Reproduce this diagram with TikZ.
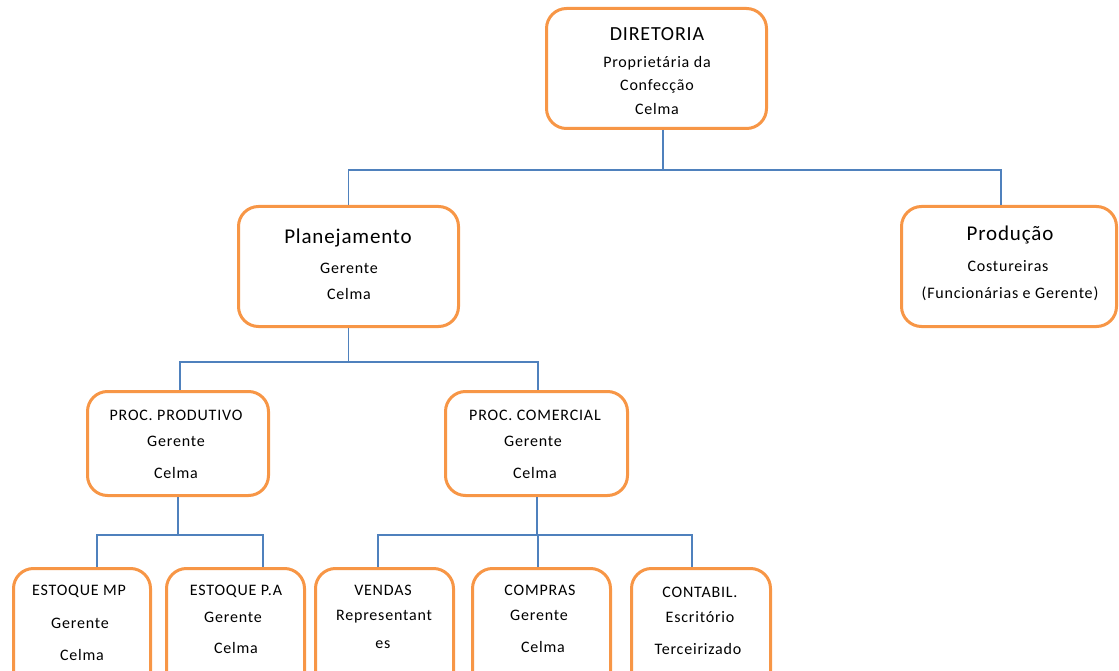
\documentclass[tikz,border=0pt]{standalone}
\usepackage{fontspec}
\setmainfont{Carlito}
\newfontfamily\tfont[LetterSpace=4]{Carlito}
\newfontfamily\sfont[LetterSpace=5]{Carlito}
\definecolor{boxorange}{HTML}{F79646}
\definecolor{lineblue}{HTML}{4F81BD}
\begin{document}
\begin{tikzpicture}[x=1pt,y=-1pt,
  box/.style={draw=boxorange, line width=3pt, rounded corners=20pt, inner sep=0pt, fill=white},
  conn/.style={draw=lineblue, line width=1.5pt},
  ttl/.style={font=\tfont\fontsize{21}{21}\selectfont, anchor=mid, inner sep=0pt, yshift=-3pt},
  ttls/.style={font=\tfont\fontsize{20}{20}\selectfont, anchor=mid, inner sep=0pt, yshift=-3pt},
  sub/.style={font=\sfont\fontsize{16}{16}\selectfont, anchor=mid, inner sep=0pt, yshift=-3pt}]
\useasboundingbox (0,0) rectangle (1119,671);
\clip (0,0) rectangle (1119,671);
% boxes
\node[box, minimum width=220pt, minimum height=120pt] (dir) at (656.5,68.5) {};
\node[box, minimum width=220pt, minimum height=120pt] (plan) at (348.5,266.5) {};
\node[box, minimum width=215pt, minimum height=120pt] (prod) at (1009,266.5) {};
\node[box, minimum width=181pt, minimum height=104pt] (pp) at (178,443.5) {};
\node[box, minimum width=182pt, minimum height=104pt] (pc) at (536.5,443.5) {};
\node[box, minimum width=137pt, minimum height=130pt] (emp) at (82,633.5) {};
\node[box, minimum width=138pt, minimum height=130pt] (epa) at (235.5,633.5) {};
\node[box, minimum width=138pt, minimum height=130pt] (ven) at (384.5,633.5) {};
\node[box, minimum width=138pt, minimum height=130pt] (com) at (541.5,633.5) {};
\node[box, minimum width=139pt, minimum height=130pt] (con) at (701,633.5) {};
% connectors
\draw[conn] ([xshift=6.5pt]dir.south) -- ++(0,40) coordinate (j1);
\draw[conn] (plan.north) |- (j1) -| ([xshift=-8pt]prod.north);
\draw[conn] (plan.south) -- ++(0,34) coordinate (j2);
\draw[conn] ([xshift=2pt]pp.north) |- (j2) -| ([xshift=1.5pt]pc.north);
\draw[conn] (pp.south) -- ++(0,38) coordinate (j3);
\draw[conn] ([xshift=15pt]emp.north) |- (j3) -| ([xshift=27.5pt]epa.north);
\draw[conn] ([xshift=0.5pt]pc.south) -- ++(0,38) coordinate (j4);
\draw[conn] ([xshift=-6.5pt]ven.north) |- (j4) -| ([xshift=-9pt]con.north);
\draw[conn] ([xshift=-3.5pt]com.north) -- ([xshift=-3.5pt]com.north |- j4);
% texts
\node[ttls] (t1) at (657,35) {DIRETORIA};
\node[sub] (t2) at (657,62) {Proprietária da};
\node[sub] (t3) at (657,85) {Confecção};
\node[sub] (t4) at (657,109) {Celma};
\node[ttl] (t5) at (348,238) {Planejamento};
\node[sub] (t6) at (349,268) {Gerente};
\node[sub] (t7) at (349,294) {Celma};
\node[ttl] (t8) at (1010,235) {Produção};
\node[sub] (t9) at (1008,266) {Costureiras};
\node[sub] (t10) at (1010,293) {(Funcionárias e Gerente)};
\node[sub] (t11) at (176,415) {PROC. PRODUTIVO};
\node[sub] (t12) at (176,441) {Gerente};
\node[sub] (t13) at (176,473) {Celma};
\node[sub] (t14) at (535,415) {PROC. COMERCIAL};
\node[sub] (t15) at (533,441) {Gerente};
\node[sub] (t16) at (535,473) {Celma};
\node[sub] (t17) at (79,590) {ESTOQUE MP};
\node[sub] (t18) at (80,623) {Gerente};
\node[sub] (t19) at (82,655) {Celma};
\node[sub] (t20) at (236,590) {ESTOQUE P.A};
\node[sub] (t21) at (233,617) {Gerente};
\node[sub] (t22) at (236,648) {Celma};
\node[sub] (t23) at (383,590) {VENDAS};
\node[sub] (t24) at (384,615) {Representant};
\node[sub] (t25) at (383,643) {es};
\node[sub] (t26) at (540,590) {COMPRAS};
\node[sub] (t27) at (539,615) {Gerente};
\node[sub] (t28) at (543,647) {Celma};
\node[sub] (t29) at (700,592) {CONTABIL.};
\node[sub] (t30) at (700,617) {Escritório};
\node[sub] (t31) at (698,649) {Terceirizado};
\end{tikzpicture}
\end{document}
